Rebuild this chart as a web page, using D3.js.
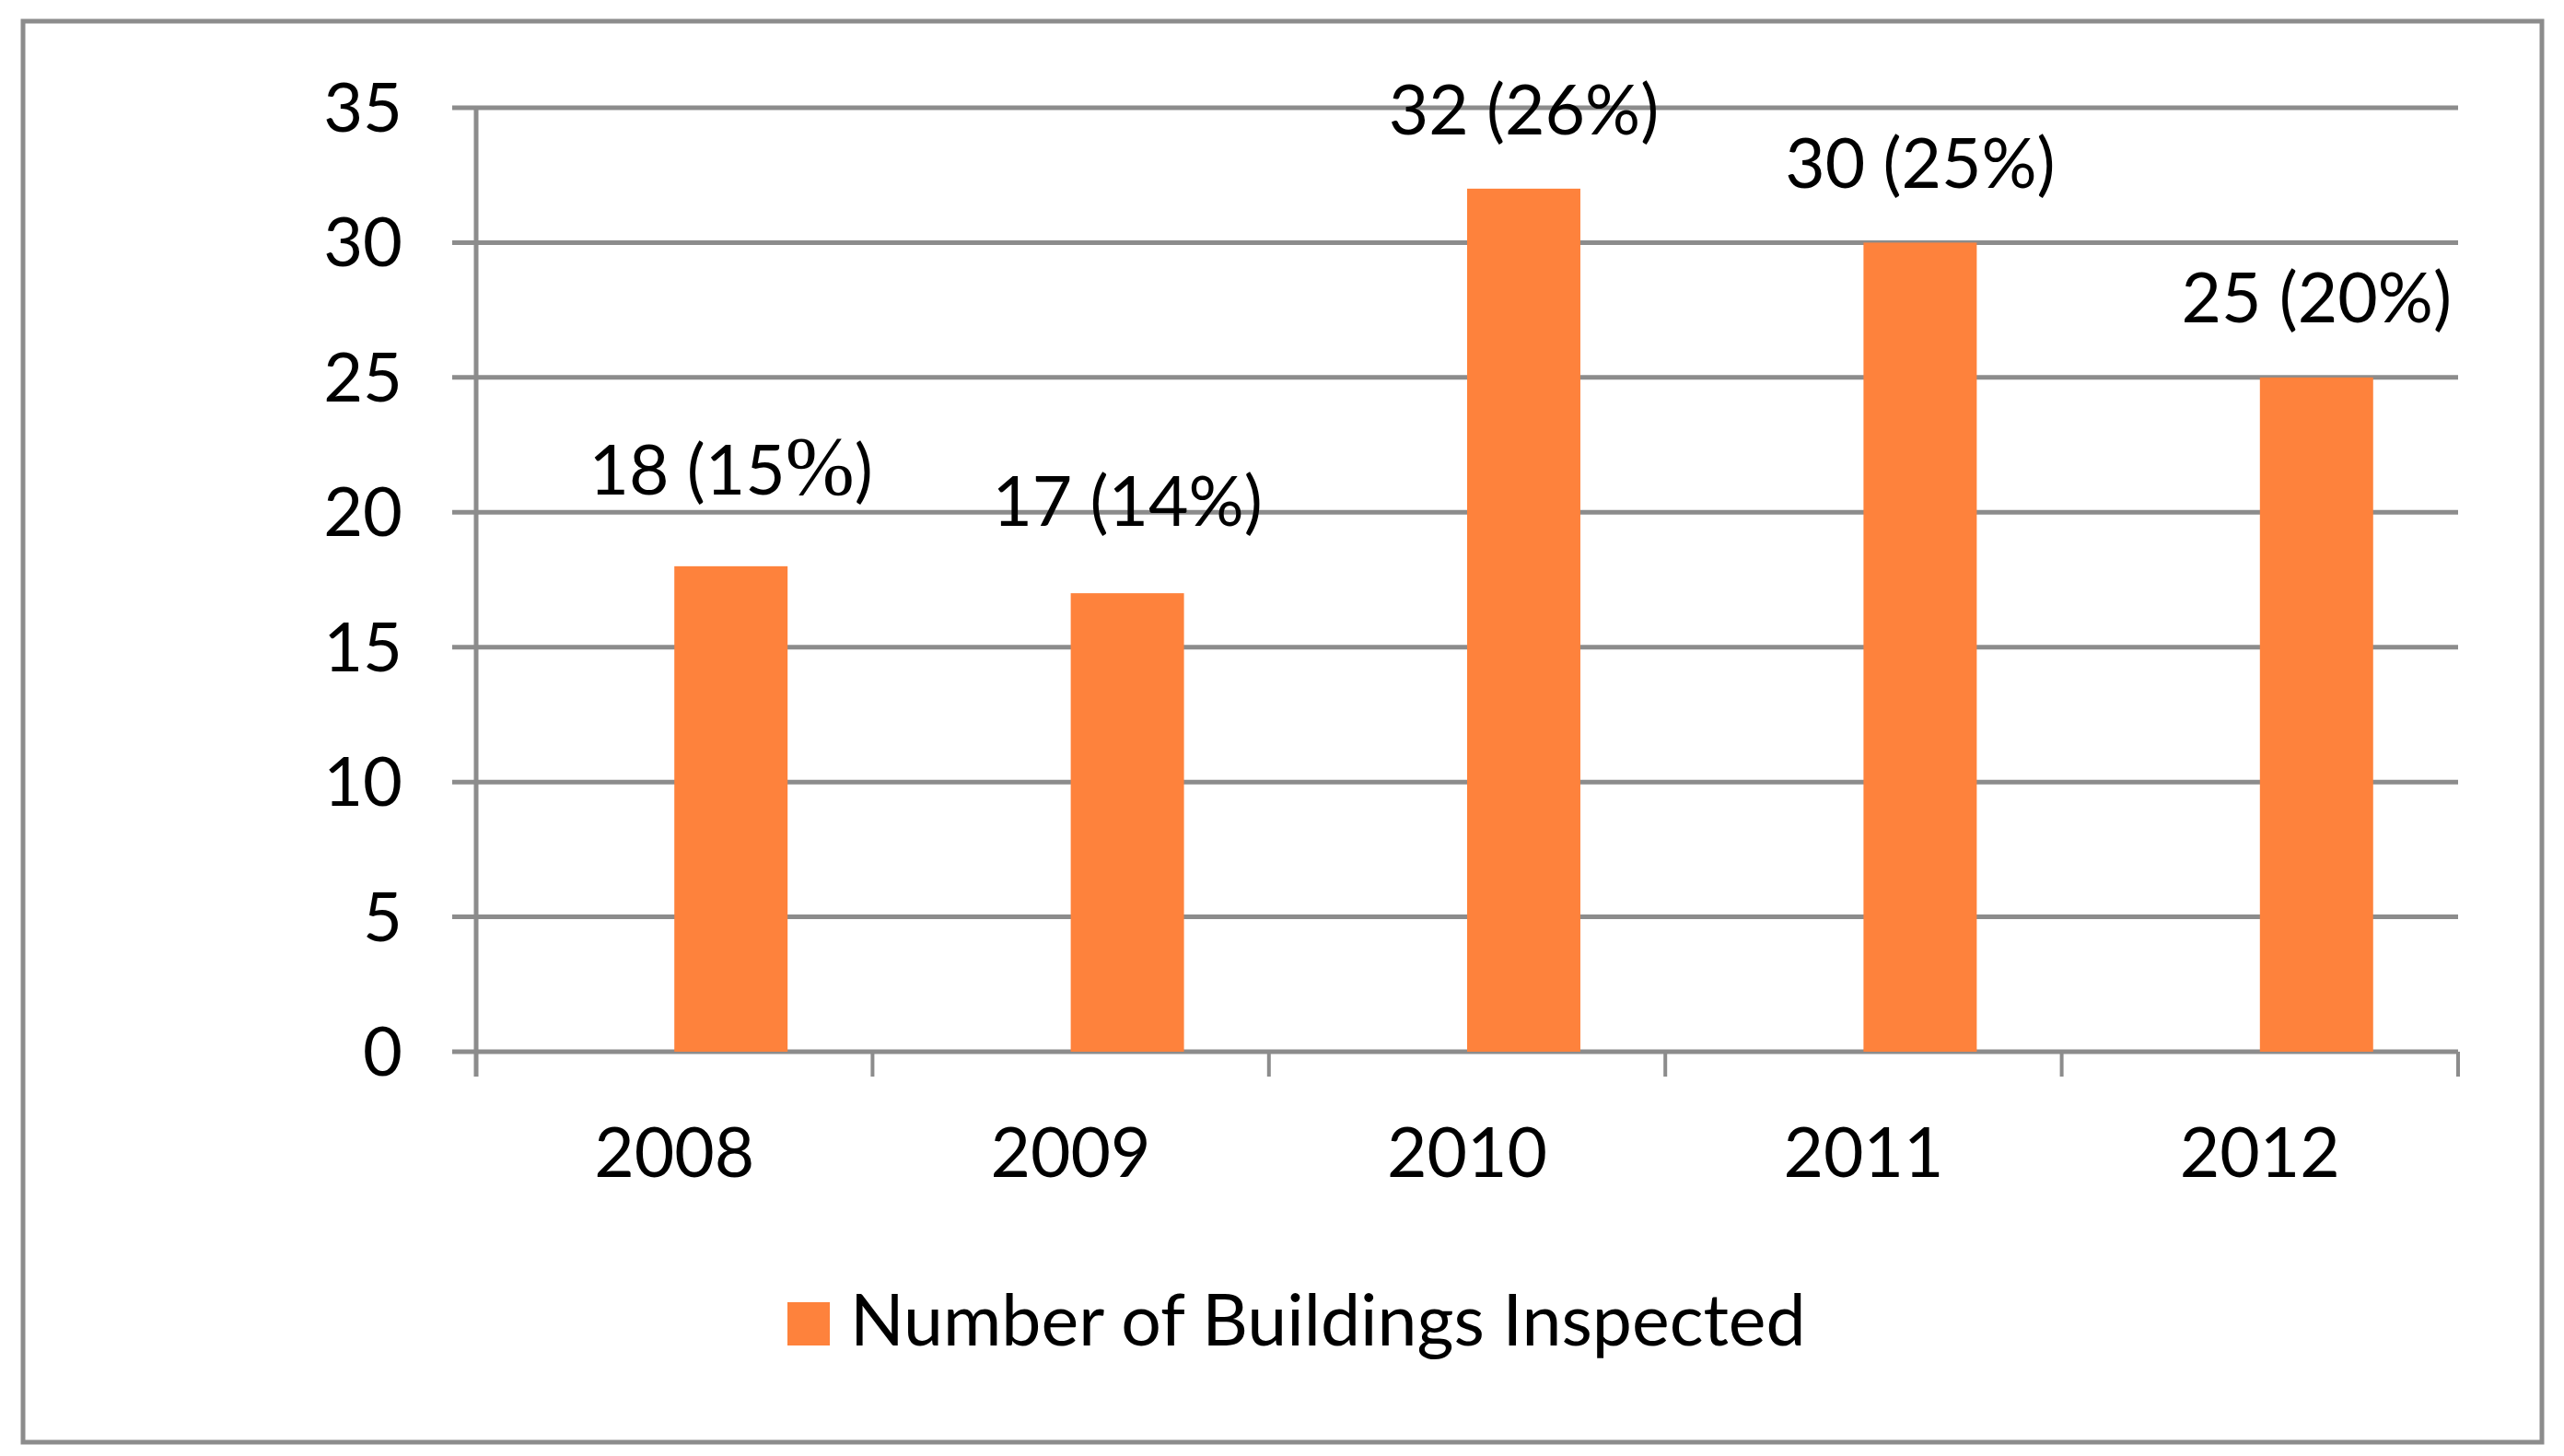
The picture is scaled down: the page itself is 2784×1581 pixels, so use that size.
<!DOCTYPE html>
<html>
<head>
<meta charset="utf-8">
<script src="https://cdn.jsdelivr.net/npm/d3@7"></script>
<style>
  html, body { margin: 0; padding: 0; background: #ffffff; }
  svg { display: block; }
  text { font-family: Lato, "Open Sans", sans-serif; fill: #000000; }
</style>
</head>
<body>
<svg id="chart"></svg>
<script>
// Daten
const years = ['2008', '2009', '2010', '2011', '2012'];
const buildings = [18, 17, 32, 30, 25];
const shares = [15, 14, 26, 25, 20];
const yTicks = [0, 5, 10, 15, 20, 25, 30, 35];
const seriesName = 'Number of Buildings Inspected';

// Beschriftungen wurden im Original von Hand verschoben
const labelLift = [78, 73, 59, 59, 60];
// im Original steht beim ersten Label das %-Zeichen in einer Serifenschrift
const serifPercentYear = '2008';

const W = 2784, H = 1581;
const plot = { left: 517, right: 2669, top: 117, bottom: 1142 };
const grey = '#8c8c8c';
const orange = '#fe823c';

const svg = d3.select('#chart')
    .attr('width', W)
    .attr('height', H);

svg.append('rect')
    .attr('x', 0).attr('y', 0)
    .attr('width', W).attr('height', H)
    .attr('fill', '#ffffff');

// Rahmen
svg.append('rect')
    .attr('x', 25).attr('y', 23)
    .attr('width', 2735).attr('height', 1543)
    .attr('fill', 'none')
    .attr('stroke', grey)
    .attr('stroke-width', 5);

// Skalen
const xScale = d3.scaleBand()
    .domain(years)
    .range([plot.left, plot.right])
    .padding(0);

const yScale = d3.scaleLinear()
    .domain([0, 35])
    .range([plot.bottom, plot.top]);

// Gitterlinien inkl. kleiner Ticks links
svg.append('g')
    .selectAll('line')
    .data(yTicks)
    .enter()
    .append('line')
    .attr('x1', plot.left - 26)
    .attr('x2', plot.right)
    .attr('y1', d => yScale(d))
    .attr('y2', d => yScale(d))
    .attr('stroke', grey)
    .attr('stroke-width', 5);

// Y-Achse
svg.append('line')
    .attr('x1', plot.left).attr('x2', plot.left)
    .attr('y1', plot.top).attr('y2', plot.bottom + 27)
    .attr('stroke', grey)
    .attr('stroke-width', 5);

// Y-Beschriftung
svg.append('g')
    .selectAll('text')
    .data(yTicks)
    .enter()
    .append('text')
    .attr('x', 437)
    .attr('y', d => yScale(d) + 26)
    .attr('text-anchor', 'end')
    .style('font-size', '74px')
    .text(d => d);

// X-Ticks an Kategoriegrenzen
const bounds = years.map(d => xScale(d)).concat([xScale.range()[1]]);
svg.append('g')
    .selectAll('line')
    .data(bounds)
    .enter()
    .append('line')
    .attr('x1', d => d).attr('x2', d => d)
    .attr('y1', plot.bottom)
    .attr('y2', plot.bottom + 27)
    .attr('stroke', grey)
    .attr('stroke-width', 4);

// X-Beschriftung
svg.append('g')
    .selectAll('text')
    .data(years)
    .enter()
    .append('text')
    .attr('x', d => xScale(d) + xScale.bandwidth() / 2)
    .attr('y', 1278)
    .attr('text-anchor', 'middle')
    .style('font-size', '75px')
    .text(d => d);

// Balken (rechte Haelfte der Kategorie, wie zweite Serie in Excel)
const barW = xScale.bandwidth() / 3.5;
const rows = years.map((y, i) => ({ year: y, value: buildings[i], share: shares[i], lift: labelLift[i] }));

svg.append('g')
    .selectAll('rect')
    .data(rows)
    .enter()
    .append('rect')
    .attr('x', d => xScale(d.year) + xScale.bandwidth() / 2)
    .attr('y', d => yScale(d.value))
    .attr('width', barW)
    .attr('height', d => yScale(0) - yScale(d.value))
    .attr('fill', orange);

// Werte an Balken
const labels = svg.append('g')
    .selectAll('text')
    .data(rows)
    .enter()
    .append('text')
    .attr('x', d => xScale(d.year) + xScale.bandwidth() / 2 + barW / 2)
    .attr('y', d => yScale(d.value) - d.lift)
    .attr('text-anchor', 'middle')
    .style('font-size', '75px');

labels.append('tspan').text(d => `${d.value} (${d.share}`);
labels.append('tspan')
    .style('font-family', d => d.year === serifPercentYear ? '"Liberation Serif", "DejaVu Serif", serif' : null)
    .style('font-size', d => d.year === serifPercentYear ? '90px' : null)
    .text('%');
labels.append('tspan').text(')');

// Legende
svg.append('rect')
    .attr('x', 855).attr('y', 1414)
    .attr('width', 46).attr('height', 47)
    .attr('fill', orange);

svg.append('text')
    .attr('x', 923)
    .attr('y', 1461)
    .style('font-size', '77px')
    .text(seriesName);
</script>
</body>
</html>
